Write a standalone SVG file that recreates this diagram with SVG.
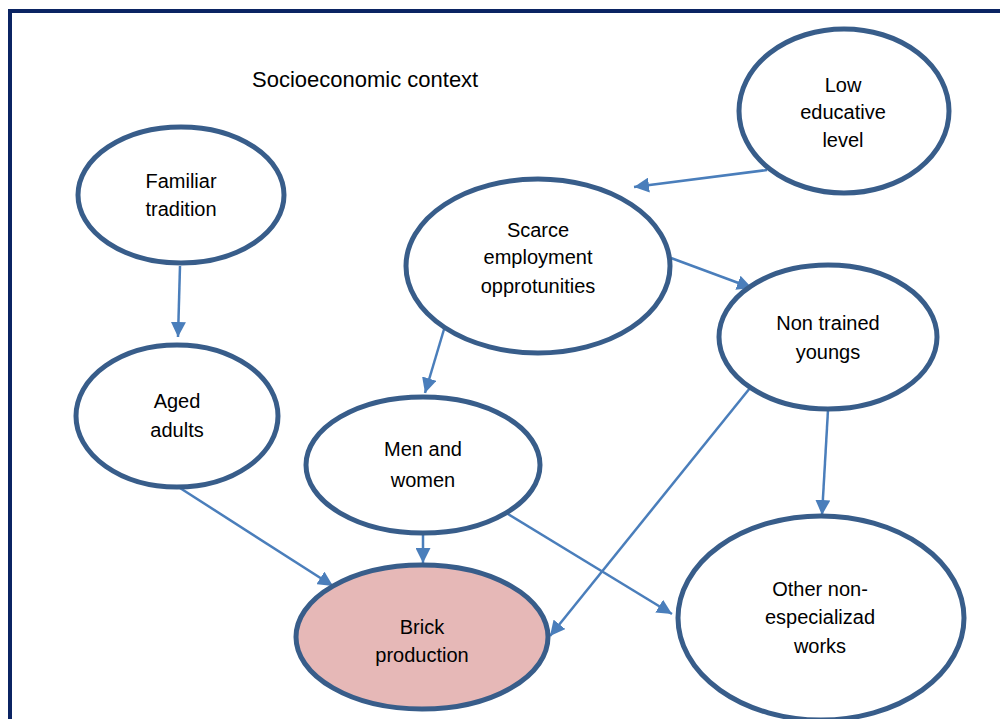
<svg xmlns="http://www.w3.org/2000/svg" width="1000" height="719" viewBox="0 0 1000 719">
<defs>
<marker id="ah" viewBox="0 0 10 10" refX="10" refY="5" markerWidth="6" markerHeight="6" markerUnits="strokeWidth" orient="auto">
<path d="M0,0 L10,5 L0,10 z" fill="#4a7ebb"/>
</marker>
<style>
.n{fill:#fff;stroke:#385d8a;stroke-width:5}
.b{fill:#e6b8b7}
.t{font-family:"Liberation Sans",Arial,sans-serif;font-size:20px;fill:#000;text-anchor:middle}
.c line{stroke:#4a7ebb;stroke-width:2.5;marker-end:url(#ah)}
</style>
</defs>
<rect x="0" y="0" width="1000" height="719" fill="#fff"/>
<rect x="10" y="11" width="1000" height="720" fill="none" stroke="#0b2463" stroke-width="4"/>
<text x="252" y="87" style="font-family:'Liberation Sans',Arial,sans-serif;font-size:22px">Socioeconomic context</text>
<g class="c" id="connectors">
<line x1="767" y1="170" x2="634" y2="187"/>
<line x1="671" y1="258" x2="752" y2="288"/>
<line x1="180" y1="266" x2="178" y2="337"/>
<line x1="445" y1="326" x2="425" y2="393"/>
<line x1="828" y1="410" x2="822" y2="515"/>
<line x1="750" y1="388" x2="550" y2="636"/>
<line x1="180" y1="488" x2="333" y2="586"/>
<line x1="423" y1="535" x2="423" y2="563"/>
<line x1="508" y1="514" x2="672" y2="614"/>
</g>
<g id="low"><ellipse class="n" cx="844" cy="111" rx="105" ry="82"/>
<text class="t" x="843" y="92">Low</text><text class="t" x="843" y="119">educative</text><text class="t" x="843" y="147">level</text></g>
<g id="familiar"><ellipse class="n" cx="181" cy="195" rx="103" ry="68"/>
<text class="t" x="181" y="188">Familiar</text><text class="t" x="181" y="216">tradition</text></g>
<g id="scarce"><ellipse class="n" cx="538" cy="266" rx="132" ry="87"/>
<text class="t" x="538" y="237">Scarce</text><text class="t" x="538" y="264">employment</text><text class="t" x="538" y="293">opprotunities</text></g>
<g id="nontrained"><ellipse class="n" cx="828" cy="337" rx="109" ry="72"/>
<text class="t" x="828" y="330">Non trained</text><text class="t" x="828" y="359">youngs</text></g>
<g id="aged"><ellipse class="n" cx="177" cy="416" rx="101" ry="71"/>
<text class="t" x="177" y="408">Aged</text><text class="t" x="177" y="437">adults</text></g>
<g id="men"><ellipse class="n" cx="423" cy="465" rx="117" ry="68"/>
<text class="t" x="423" y="456">Men and</text><text class="t" x="423" y="487">women</text></g>
<g id="brick"><ellipse class="n b" cx="422" cy="637" rx="126" ry="72"/>
<text class="t" x="422" y="634">Brick</text><text class="t" x="422" y="662">production</text></g>
<g id="other"><ellipse class="n" cx="821" cy="618" rx="143" ry="102"/>
<text class="t" x="820" y="596">Other non-</text><text class="t" x="820" y="624">especializad</text><text class="t" x="820" y="653">works</text></g>
</svg>
